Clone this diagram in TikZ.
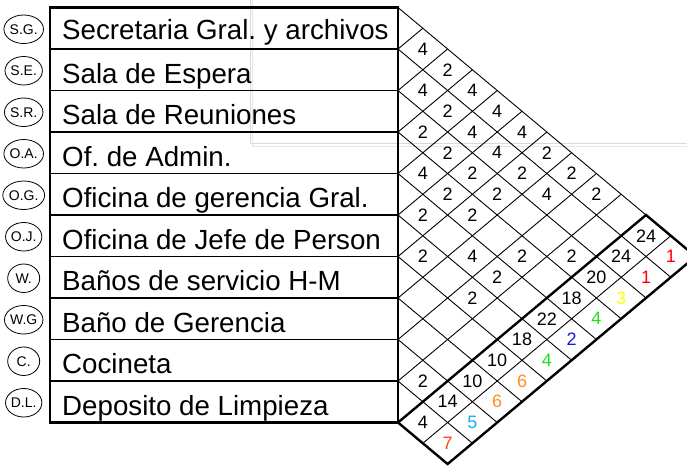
\documentclass[tikz,border=0pt]{standalone}
\usepackage{fontspec}
\setmainfont{Liberation Sans}
\usetikzlibrary{shapes.geometric}
\definecolor{rkred}{RGB}{255,0,0}
\definecolor{rkyellow}{RGB}{255,255,0}
\definecolor{rkgreen}{RGB}{30,225,30}
\definecolor{rkblue}{RGB}{20,20,230}
\definecolor{rkorange}{RGB}{255,140,30}
\definecolor{rkcyan}{RGB}{20,175,240}
\definecolor{rkredorange}{RGB}{255,70,20}
\frenchspacing
\begin{document}
\begin{tikzpicture}[x=1pt,y=-1pt,
  gridline/.style={line width=0.9pt, black},
  borderline/.style={line width=2.4pt, black},
  rowline/.style={line width=1.2pt, black},
  numtxt/.style={inner sep=0pt, font=\fontsize{18}{18}\selectfont},
  labtxt/.style={inner sep=0pt, anchor=base west, font=\fontsize{27.7}{28}\selectfont},
  abbr/.style={draw, ellipse, line width=0.8pt, minimum width=32pt, minimum height=28.5pt, inner sep=0pt, font=\fontsize{14}{14}\selectfont}]
\path[use as bounding box] (0,0) rectangle (687,466);
\clip (0,0) rectangle (687,466);
% faint overlay frame
\draw[gray!30, line width=1pt] (250,-1) -- (250,143) -- (688,143);
\draw[gray!20, line width=1pt] (252.5,-1) -- (252.5,146) -- (688,146);
\def\xo{398}\def\yo{7.5}\def\hh{41.5}\def\hs{24.8}\def\hv{20.75}
% diagonal grid: down-right lines
\foreach \k in {0,...,9}{
  \pgfmathsetmacro\ya{\yo+\hh*\k}
  \pgfmathsetmacro\tn{12-\k}
  \draw[gridline] (\xo,\ya) -- ++(\tn*\hs,\tn*\hv);
}
% up-right lines
\foreach \m in {1,...,9}{
  \pgfmathsetmacro\ya{\yo+\hh*\m}
  \draw[gridline] (\xo,\ya) -- ++(\m*\hs,-\m*\hv);
}
% line between totals and ranks
\draw[gridline] (\xo+\hs,\yo+\hh*11-\hv) -- ++(10*\hs,-10*\hv);
% table rows
\foreach \k in {1,...,9}{
  \draw[rowline] (50,\yo+\hh*\k) -- (\xo,\yo+\hh*\k);
}
\draw[borderline] (50,\yo) rectangle (\xo,\yo+\hh*10);
% thick outline of totals / ranks strip
\draw[borderline, line join=miter] (\xo,\yo+\hh*10) -- ++(10*\hs,-10*\hv) -- ++(2*\hs,2*\hv) -- ++(-10*\hs,10*\hv) -- cycle;
% row labels and circles
\foreach \i/\bl/\t/\a in {
  1/39/{Secretaria Gral. y archivos}/{S.G.},
  2/83.05/{Sala de Espera}/{S.E.},
  3/124.55/{Sala de Reuniones}/{S.R.},
  4/166.05/{Of. de Admin.}/{O.A.},
  5/207.55/{Oficina de gerencia Gral.}/{O.G.},
  6/249.05/{Oficina de Jefe de Person}/{O.J.},
  7/290.55/{Baños de servicio H-M}/{W.},
  8/332.05/{Baño de Gerencia}/{W.G},
  9/373.55/{Cocineta}/{C.},
  10/415.05/{Deposito de Limpieza}/{D.L.}}{
  \node[labtxt] (r\i) at (62,\bl) {\t};
  \node[abbr] (a\i) at (23.7,\yo+\hh*\i-\hh/2+1) {\a};
}
% relation values
\foreach \i/\j/\v in {1/2/4,1/3/2,1/4/4,1/5/4,1/6/4,1/7/2,1/8/2,1/9/2,
  2/3/4,2/4/2,2/5/4,2/6/4,2/7/2,2/8/4,
  3/4/2,3/5/2,3/6/2,3/7/2,3/10/2,
  4/5/4,4/6/2,4/7/2,4/9/2,
  5/6/2,5/8/4,5/9/2,
  6/7/2,6/9/2,
  9/10/2}{
  \node[numtxt] (c\i-\j) at (\xo+\j*\hs-\i*\hs,\yo+\hv*\i+\hv*\j-\hv) {\v};
}
% totals
\foreach \i/\v in {1/24,2/24,3/20,4/18,5/22,6/18,7/10,8/10,9/14,10/4}{
  \node[numtxt] (s\i) at (\xo+11*\hs-\i*\hs,\yo+\hv*\i+10*\hv) {\v};
}
% ranks
\foreach \i/\v/\c in {1/1/rkred,2/1/rkred,3/3/rkyellow,4/4/rkgreen,5/2/rkblue,
  6/4/rkgreen,7/6/rkorange,8/6/rkorange,9/5/rkcyan,10/7/rkredorange}{
  \node[numtxt, text=\c] (k\i) at (\xo+12*\hs-\i*\hs,\yo+\hv*\i+11*\hv) {\v};
}
\end{tikzpicture}
\end{document}
